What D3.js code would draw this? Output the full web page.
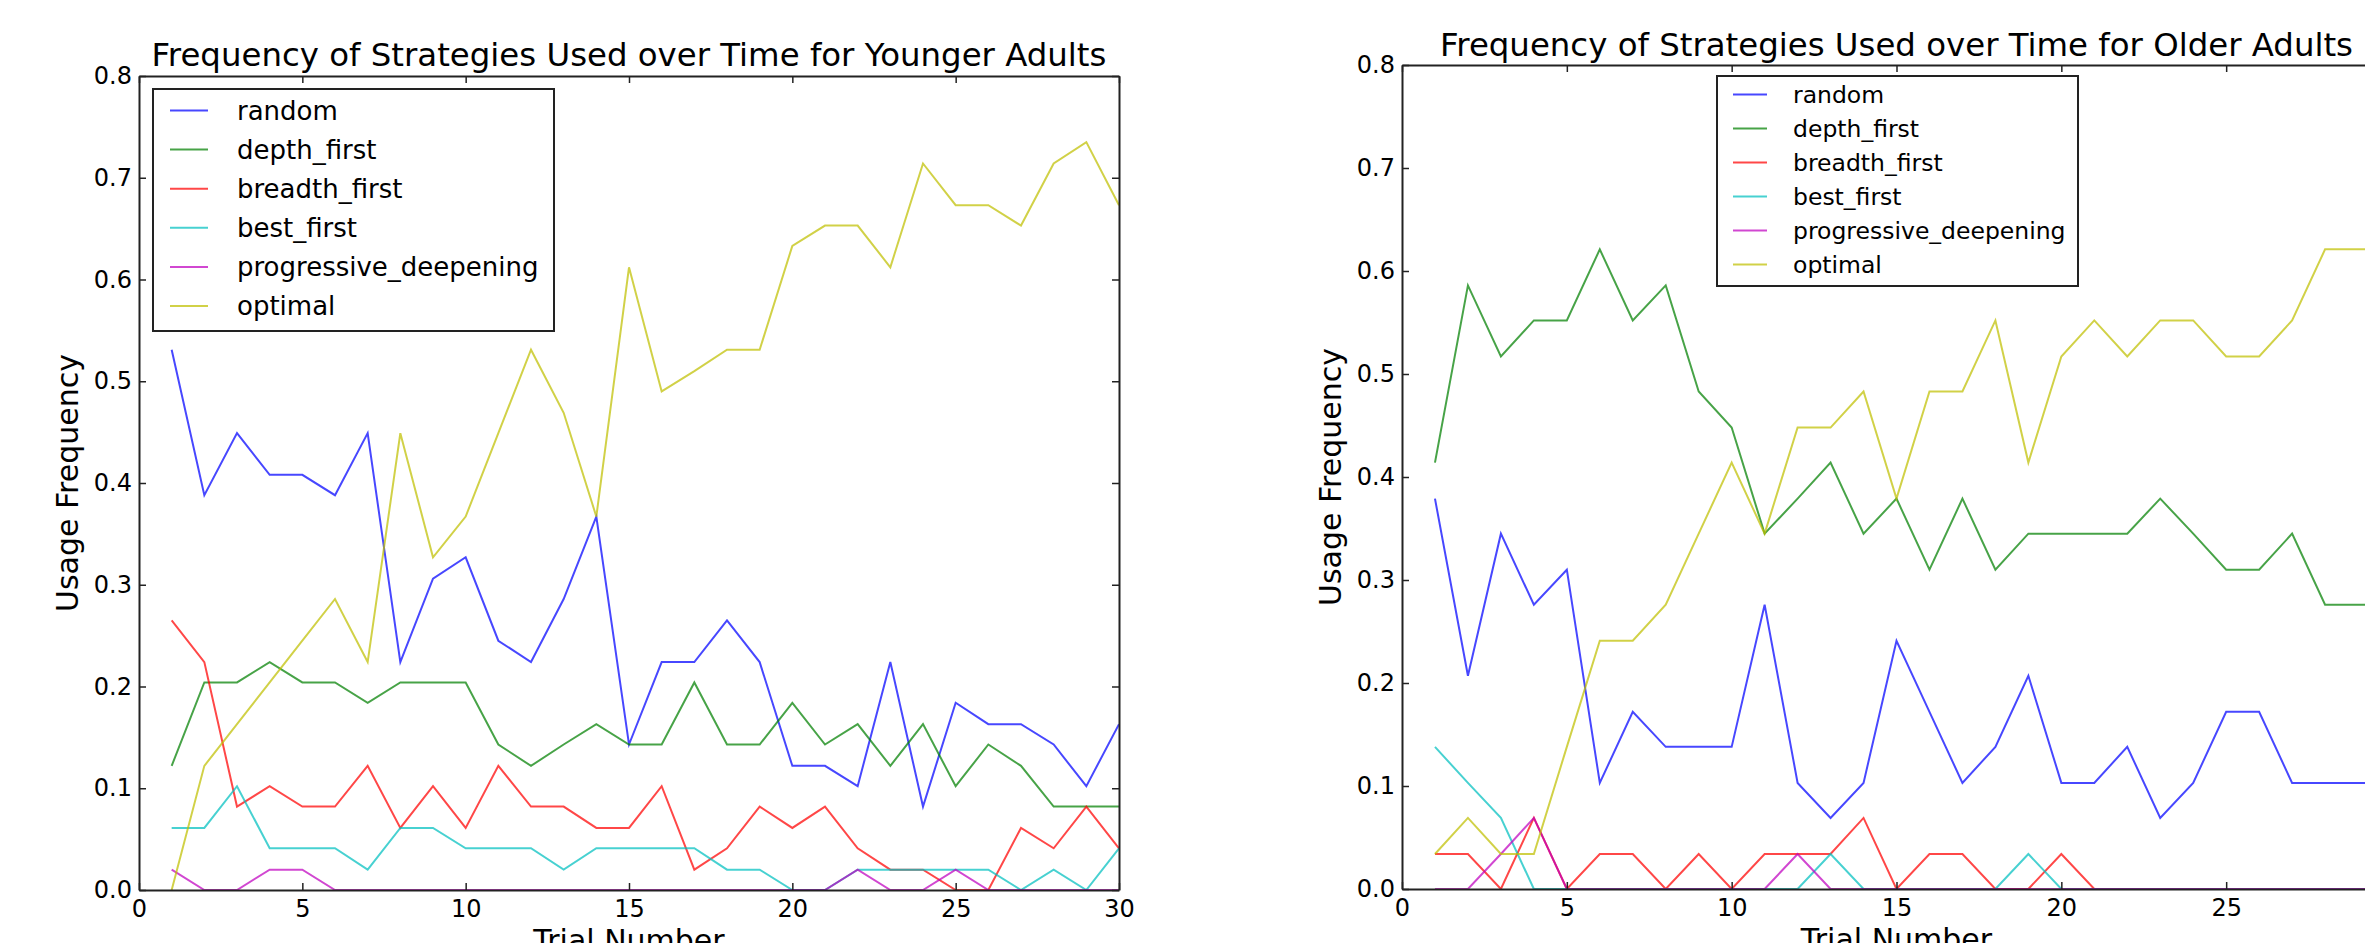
<!DOCTYPE html>
<html lang="en">
<head>
    <meta charset="UTF-8">
    <title>Frequency of Strategies Used over Time</title>
    <style>
        body { margin: 0; background: #fff; }
        svg { display: block; font-family: "DejaVu Sans", sans-serif; }
    </style>
    <script src="https://d3js.org/d3.v7.min.js"></script>
</head>
<body>
    <div id="chart"></div>

    <script>
        // trial numbers on the x axis
        const trials = [1, 2, 3, 4, 5, 6, 7, 8, 9, 10, 11, 12, 13, 14, 15,
                        16, 17, 18, 19, 20, 21, 22, 23, 24, 25, 26, 27, 28, 29, 30];
        const strategies = ["random", "depth_first", "breadth_first", "best_first", "progressive_deepening", "optimal"];
        const xTicks = [0, 5, 10, 15, 20, 25, 30];
        const yTicks = [0, 0.1, 0.2, 0.3, 0.4, 0.5, 0.6, 0.7, 0.8];

        // Younger adults
        const youngRandom = [0.531, 0.388, 0.449, 0.408, 0.408, 0.388, 0.449, 0.224, 0.306, 0.327,
                             0.245, 0.224, 0.286, 0.367, 0.143, 0.224, 0.224, 0.265, 0.224, 0.122,
                             0.122, 0.102, 0.224, 0.082, 0.184, 0.163, 0.163, 0.143, 0.102, 0.163];
        const youngDepth = [0.122, 0.204, 0.204, 0.224, 0.204, 0.204, 0.184, 0.204, 0.204, 0.204,
                            0.143, 0.122, 0.143, 0.163, 0.143, 0.143, 0.204, 0.143, 0.143, 0.184,
                            0.143, 0.163, 0.122, 0.163, 0.102, 0.143, 0.122, 0.082, 0.082, 0.082];
        const youngBreadth = [0.265, 0.224, 0.082, 0.102, 0.082, 0.082, 0.122, 0.061, 0.102, 0.061,
                              0.122, 0.082, 0.082, 0.061, 0.061, 0.102, 0.020, 0.041, 0.082, 0.061,
                              0.082, 0.041, 0.020, 0.020, 0.000, 0.000, 0.061, 0.041, 0.082, 0.041];
        const youngBest = [0.061, 0.061, 0.102, 0.041, 0.041, 0.041, 0.020, 0.061, 0.061, 0.041,
                           0.041, 0.041, 0.020, 0.041, 0.041, 0.041, 0.041, 0.020, 0.020, 0.000,
                           0.000, 0.020, 0.020, 0.020, 0.020, 0.020, 0.000, 0.020, 0.000, 0.041];
        const youngProgressive = [0.020, 0.000, 0.000, 0.020, 0.020, 0.000, 0.000, 0.000, 0.000, 0.000,
                                  0.000, 0.000, 0.000, 0.000, 0.000, 0.000, 0.000, 0.000, 0.000, 0.000,
                                  0.000, 0.020, 0.000, 0.000, 0.020, 0.000, 0.000, 0.000, 0.000, 0.000];
        const youngOptimal = [0.000, 0.122, 0.163, 0.204, 0.245, 0.286, 0.224, 0.449, 0.327, 0.367,
                              0.449, 0.531, 0.469, 0.367, 0.612, 0.490, 0.510, 0.531, 0.531, 0.633,
                              0.653, 0.653, 0.612, 0.714, 0.673, 0.673, 0.653, 0.714, 0.735, 0.673];

        // Older adults
        const oldRandom = [0.379, 0.207, 0.345, 0.276, 0.310, 0.103, 0.172, 0.138, 0.138, 0.138,
                           0.276, 0.103, 0.069, 0.103, 0.241, 0.172, 0.103, 0.138, 0.207, 0.103,
                           0.103, 0.138, 0.069, 0.103, 0.172, 0.172, 0.103, 0.103, 0.103, 0.103];
        const oldDepth = [0.414, 0.586, 0.517, 0.552, 0.552, 0.621, 0.552, 0.586, 0.483, 0.448,
                          0.345, 0.379, 0.414, 0.345, 0.379, 0.310, 0.379, 0.310, 0.345, 0.345,
                          0.345, 0.345, 0.379, 0.345, 0.310, 0.310, 0.345, 0.276, 0.276, 0.276];
        const oldBreadth = [0.034, 0.034, 0.000, 0.069, 0.000, 0.034, 0.034, 0.000, 0.034, 0.000,
                            0.034, 0.034, 0.034, 0.069, 0.000, 0.034, 0.034, 0.000, 0.000, 0.034,
                            0.000, 0.000, 0.000, 0.000, 0.000, 0.000, 0.000, 0.000, 0.000, 0.000];
        const oldBest = [0.138, 0.103, 0.069, 0.000, 0.000, 0.000, 0.000, 0.000, 0.000, 0.000,
                         0.000, 0.000, 0.034, 0.000, 0.000, 0.000, 0.000, 0.000, 0.034, 0.000,
                         0.000, 0.000, 0.000, 0.000, 0.000, 0.000, 0.000, 0.000, 0.000, 0.000];
        const oldProgressive = [0.000, 0.000, 0.034, 0.069, 0.000, 0.000, 0.000, 0.000, 0.000, 0.000,
                                0.000, 0.034, 0.000, 0.000, 0.000, 0.000, 0.000, 0.000, 0.000, 0.000,
                                0.000, 0.000, 0.000, 0.000, 0.000, 0.000, 0.000, 0.000, 0.000, 0.000];
        const oldOptimal = [0.034, 0.069, 0.034, 0.034, 0.138, 0.241, 0.241, 0.276, 0.345, 0.414,
                            0.345, 0.448, 0.448, 0.483, 0.379, 0.483, 0.483, 0.552, 0.414, 0.517,
                            0.552, 0.517, 0.552, 0.552, 0.517, 0.517, 0.552, 0.621, 0.621, 0.621];

        const colors = ["#0000ff", "#008000", "#ff0000", "#00bfbf", "#bf00bf", "#bfbf00"];

        const width = 2365;
        const height = 943;

        const svg = d3.select("#chart").append("svg")
            .attr("width", width)
            .attr("height", height);

        const panels = [
            {
                id: "young",
                title: "Frequency of Strategies Used over Time for Younger Adults",
                series: [youngRandom, youngDepth, youngBreadth, youngBest, youngProgressive, youngOptimal],
                left: 139, right: 1119, top: 76, bottom: 890, titleY: 66,
                legend: { x: 153, y: 89, w: 401, h: 242, font: 26, row: 39.1, first: 21.5, lineX: 17, lineW: 38, textX: 84 }
            },
            {
                id: "old",
                title: "Frequency of Strategies Used over Time for Older Adults",
                series: [oldRandom, oldDepth, oldBreadth, oldBest, oldProgressive, oldOptimal],
                left: 1402, right: 2391, top: 65, bottom: 889, titleY: 56,
                legend: { x: 1717, y: 76, w: 361, h: 210, font: 23.5, row: 34, first: 18.5, lineX: 16, lineW: 34, textX: 76 }
            }
        ];

        panels.forEach(p => {
            const x = d3.scaleLinear().domain([0, 30]).range([p.left, p.right]);
            const y = d3.scaleLinear().domain([0, 0.8]).range([p.bottom, p.top]);

            svg.append("clipPath")
                .attr("id", "clip-" + p.id)
                .append("rect")
                .attr("x", p.left).attr("y", p.top)
                .attr("width", p.right - p.left).attr("height", p.bottom - p.top);

            // data lines
            const line = d3.line()
                .x((d, i) => x(trials[i]))
                .y(d => y(d));

            svg.append("g")
                .attr("clip-path", `url(#clip-${p.id})`)
                .selectAll("path")
                .data(p.series)
                .enter().append("path")
                .attr("d", line)
                .attr("fill", "none")
                .attr("stroke", (d, i) => colors[i])
                .attr("stroke-opacity", 0.72)
                .attr("stroke-width", 2)
                .attr("stroke-linejoin", "miter");

            // axes, ticks point inwards on all four sides
            const styleAxis = g => {
                g.attr("font-family", "DejaVu Sans, sans-serif").attr("font-size", 24);
                g.select(".domain").attr("stroke", "#222").attr("stroke-width", 2);
                g.selectAll(".tick line").attr("stroke", "#222").attr("stroke-width", 1.5);
                g.selectAll(".tick text").attr("fill", "#000");
            };

            // the older panel runs past the right edge of the picture, so only label ticks that are in view
            const visibleXTicks = xTicks.filter(t => x(t) < width);

            svg.append("g")
                .attr("transform", `translate(0,${p.bottom})`)
                .call(d3.axisBottom(x).tickValues(visibleXTicks).tickFormat(d3.format("d"))
                    .tickSizeInner(-7).tickSizeOuter(0).tickPadding(10))
                .call(styleAxis);

            svg.append("g")
                .attr("transform", `translate(0,${p.top})`)
                .call(d3.axisTop(x).tickValues(visibleXTicks).tickFormat("")
                    .tickSizeInner(-7).tickSizeOuter(0))
                .call(styleAxis);

            svg.append("g")
                .attr("transform", `translate(${p.left},0)`)
                .call(d3.axisLeft(y).tickValues(yTicks).tickFormat(d3.format(".1f"))
                    .tickSizeInner(-7).tickSizeOuter(0).tickPadding(7))
                .call(styleAxis);

            svg.append("g")
                .attr("transform", `translate(${p.right},0)`)
                .call(d3.axisRight(y).tickValues(yTicks).tickFormat("")
                    .tickSizeInner(-7).tickSizeOuter(0))
                .call(styleAxis);

            // title and axis labels
            svg.append("text")
                .attr("x", (p.left + p.right) / 2)
                .attr("y", p.titleY)
                .attr("text-anchor", "middle")
                .attr("font-size", 32.4)
                .text(p.title);

            svg.append("text")
                .attr("x", (p.left + p.right) / 2)
                .attr("y", p.bottom + 61)
                .attr("text-anchor", "middle")
                .attr("font-size", 30)
                .text("Trial Number");

            svg.append("text")
                .attr("transform", `translate(${p.left - 61},${(p.top + p.bottom) / 2}) rotate(-90)`)
                .attr("text-anchor", "middle")
                .attr("font-size", 30)
                .text("Usage Frequency");

            // legend
            const L = p.legend;
            const lg = svg.append("g").attr("transform", `translate(${L.x},${L.y})`);

            lg.append("rect")
                .attr("width", L.w)
                .attr("height", L.h)
                .attr("fill", "#fff")
                .attr("stroke", "#222")
                .attr("stroke-width", 2);

            const item = lg.selectAll(".legend")
                .data(strategies)
                .enter().append("g")
                .attr("class", "legend")
                .attr("transform", (d, i) => `translate(0,${L.first + i * L.row})`);

            item.append("line")
                .attr("x1", L.lineX)
                .attr("x2", L.lineX + L.lineW)
                .attr("stroke", (d, i) => colors[i])
                .attr("stroke-opacity", 0.72)
                .attr("stroke-width", 2);

            item.append("text")
                .attr("x", L.textX)
                .attr("dy", "0.35em")
                .attr("font-size", L.font)
                .text(d => d);
        });
    </script>
</body>
</html>
